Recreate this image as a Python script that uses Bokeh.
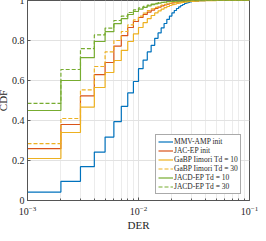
from bokeh.plotting import figure
from bokeh.models import Legend, LegendItem, FixedTicker
from bokeh.embed import file_html
from bokeh.resources import INLINE

# DER values (x) at which each empirical CDF steps
der = [0.001, 0.002, 0.003, 0.004, 0.005, 0.006, 0.007, 0.008, 0.009, 0.010,
       0.011, 0.012, 0.013, 0.014, 0.015, 0.016, 0.017, 0.018, 0.019, 0.020,
       0.021, 0.022, 0.023, 0.024, 0.025, 0.026, 0.027, 0.028, 0.029, 0.030,
       0.032, 0.035, 0.040, 0.050, 0.100]

mmv_amp_init = [0.042, 0.096, 0.169, 0.242, 0.317, 0.394, 0.471, 0.538, 0.595, 0.659,
                0.702, 0.743, 0.776, 0.811, 0.838, 0.863, 0.885, 0.906, 0.922, 0.938,
                0.950, 0.960, 0.968, 0.975, 0.980, 0.985, 0.988, 0.991, 0.993, 0.995,
                0.997, 0.999, 1.000, 1.000, 1.000]
jac_ep_init = [0.259, 0.380, 0.523, 0.629, 0.690, 0.772, 0.824, 0.865, 0.895, 0.915,
               0.930, 0.942, 0.952, 0.960, 0.967, 0.973, 0.978, 0.982, 0.985, 0.988,
               0.990, 0.992, 0.993, 0.994, 0.995, 0.996, 0.997, 0.997, 0.998, 0.998,
               0.999, 1.000, 1.000, 1.000, 1.000]
gabp_td10 = [0.210, 0.340, 0.467, 0.565, 0.640, 0.700, 0.751, 0.795, 0.833, 0.865,
             0.889, 0.909, 0.925, 0.938, 0.948, 0.957, 0.964, 0.970, 0.975, 0.979,
             0.982, 0.985, 0.987, 0.989, 0.991, 0.992, 0.993, 0.994, 0.995, 0.996,
             0.997, 0.998, 0.999, 1.000, 1.000]
gabp_td30 = [0.284, 0.410, 0.553, 0.670, 0.743, 0.800, 0.845, 0.878, 0.903, 0.922,
             0.937, 0.949, 0.958, 0.966, 0.972, 0.977, 0.981, 0.984, 0.987, 0.989,
             0.991, 0.993, 0.994, 0.995, 0.996, 0.997, 0.997, 0.998, 0.998, 0.999,
             0.999, 1.000, 1.000, 1.000, 1.000]
jacd_td10 = [0.450, 0.600, 0.714, 0.795, 0.844, 0.884, 0.909, 0.930, 0.945, 0.957,
             0.966, 0.973, 0.979, 0.983, 0.987, 0.990, 0.992, 0.994, 0.995, 0.996,
             0.997, 0.997, 0.998, 0.998, 0.999, 0.999, 0.999, 0.999, 0.999, 1.000,
             1.000, 1.000, 1.000, 1.000, 1.000]
jacd_td30 = [0.486, 0.655, 0.759, 0.828, 0.862, 0.900, 0.922, 0.940, 0.953, 0.963,
             0.971, 0.977, 0.982, 0.986, 0.989, 0.991, 0.993, 0.995, 0.996, 0.997,
             0.997, 0.998, 0.998, 0.999, 0.999, 0.999, 0.999, 1.000, 1.000, 1.000,
             1.000, 1.000, 1.000, 1.000, 1.000]

series_labels = ["MMV-AMP init", "JAC-EP init", "GaBP Iimori Td = 10",
                 "GaBP Iimori Td = 30", "JACD-EP Td = 10", "JACD-EP Td = 30"]

y_ticks = [0, 0.2, 0.4, 0.6, 0.8, 1]
y_tick_labels = ["0", "0.2", "0.4", "0.6", "0.8", "1"]
x_ticks = [1e-3, 1e-2, 1e-1]
x_minor_ticks = [2e-3, 3e-3, 4e-3, 5e-3, 6e-3, 7e-3, 8e-3, 9e-3,
                 2e-2, 3e-2, 4e-2, 5e-2, 6e-2, 7e-2, 8e-2, 9e-2]

FONT = "Liberation Serif"

p = figure(width=266, height=241, x_axis_type="log",
           x_range=(1e-3, 1e-1), y_range=(0, 1),
           output_backend="svg", toolbar_location=None, title_location=None,
           min_border_left=35, min_border_right=9,
           min_border_top=8, min_border_bottom=32)
p.styles = {"position": "relative", "left": "-8px", "top": "-8px",
            "margin-right": "-16px", "margin-bottom": "-16px"}
p.background_fill_color = "white"
p.border_fill_color = "white"
p.outline_line_color = "#555555"
p.outline_line_width = 1

# axes
for ax in (p.xaxis[0], p.yaxis[0]):
    ax.axis_line_color = "#555555"
    ax.major_tick_line_color = "#555555"
    ax.minor_tick_line_color = "#555555"
    ax.major_tick_in = 3
    ax.major_tick_out = 0
    ax.minor_tick_in = 2
    ax.minor_tick_out = 0
    ax.major_label_text_font = FONT
    ax.major_label_text_font_size = "10px"
    ax.major_label_text_color = "#262626"
    ax.axis_label_text_font = FONT
    ax.axis_label_text_font_size = "11px"
    ax.axis_label_text_font_style = "normal"
    ax.axis_label_text_color = "#262626"

p.xaxis.ticker = FixedTicker(ticks=x_ticks, minor_ticks=x_minor_ticks)
p.xaxis.axis_label = "DER"
p.xaxis.major_label_standoff = 5
p.xaxis.axis_label_standoff = 1

p.yaxis.ticker = FixedTicker(ticks=y_ticks)
p.yaxis.major_label_overrides = {t: l for t, l in zip(y_ticks, y_tick_labels)}
p.yaxis.axis_label = "CDF"
p.yaxis.major_label_standoff = 3
p.yaxis.axis_label_standoff = 0
p.yaxis.minor_tick_line_color = None

p.xgrid.grid_line_color = "#e2e2e2"
p.xgrid.minor_grid_line_color = "#ececec"
p.ygrid.grid_line_color = "#e2e2e2"

series = [mmv_amp_init, jac_ep_init, gabp_td10, gabp_td30, jacd_td10, jacd_td30]
colors = ["#0072BD", "#D95319", "#EDB120", "#EDB120", "#77AC30", "#77AC30"]
dashes = ["solid", "solid", "solid", "4 2", "solid", "4 2"]

items = []
for vals, col, dash, lab in zip(series, colors, dashes, series_labels):
    r = p.step(der, vals, mode="after", line_color=col, line_width=1.2,
               line_dash=dash)
    items.append(LegendItem(label=lab, renderers=[r]))

legend = Legend(items=items, location=(128, 6))
legend.label_text_font = FONT
legend.label_text_font_size = "7.5px"
legend.label_text_color = "#262626"
legend.label_height = 9
legend.glyph_height = 9
legend.glyph_width = 15
legend.label_standoff = 1
legend.spacing = 0
legend.padding = 2
legend.margin = 0
legend.border_line_color = "#555555"
legend.border_line_width = 1
legend.background_fill_alpha = 1
p.add_layout(legend, "center")

open("out.html", "w").write(file_html(p, INLINE))
